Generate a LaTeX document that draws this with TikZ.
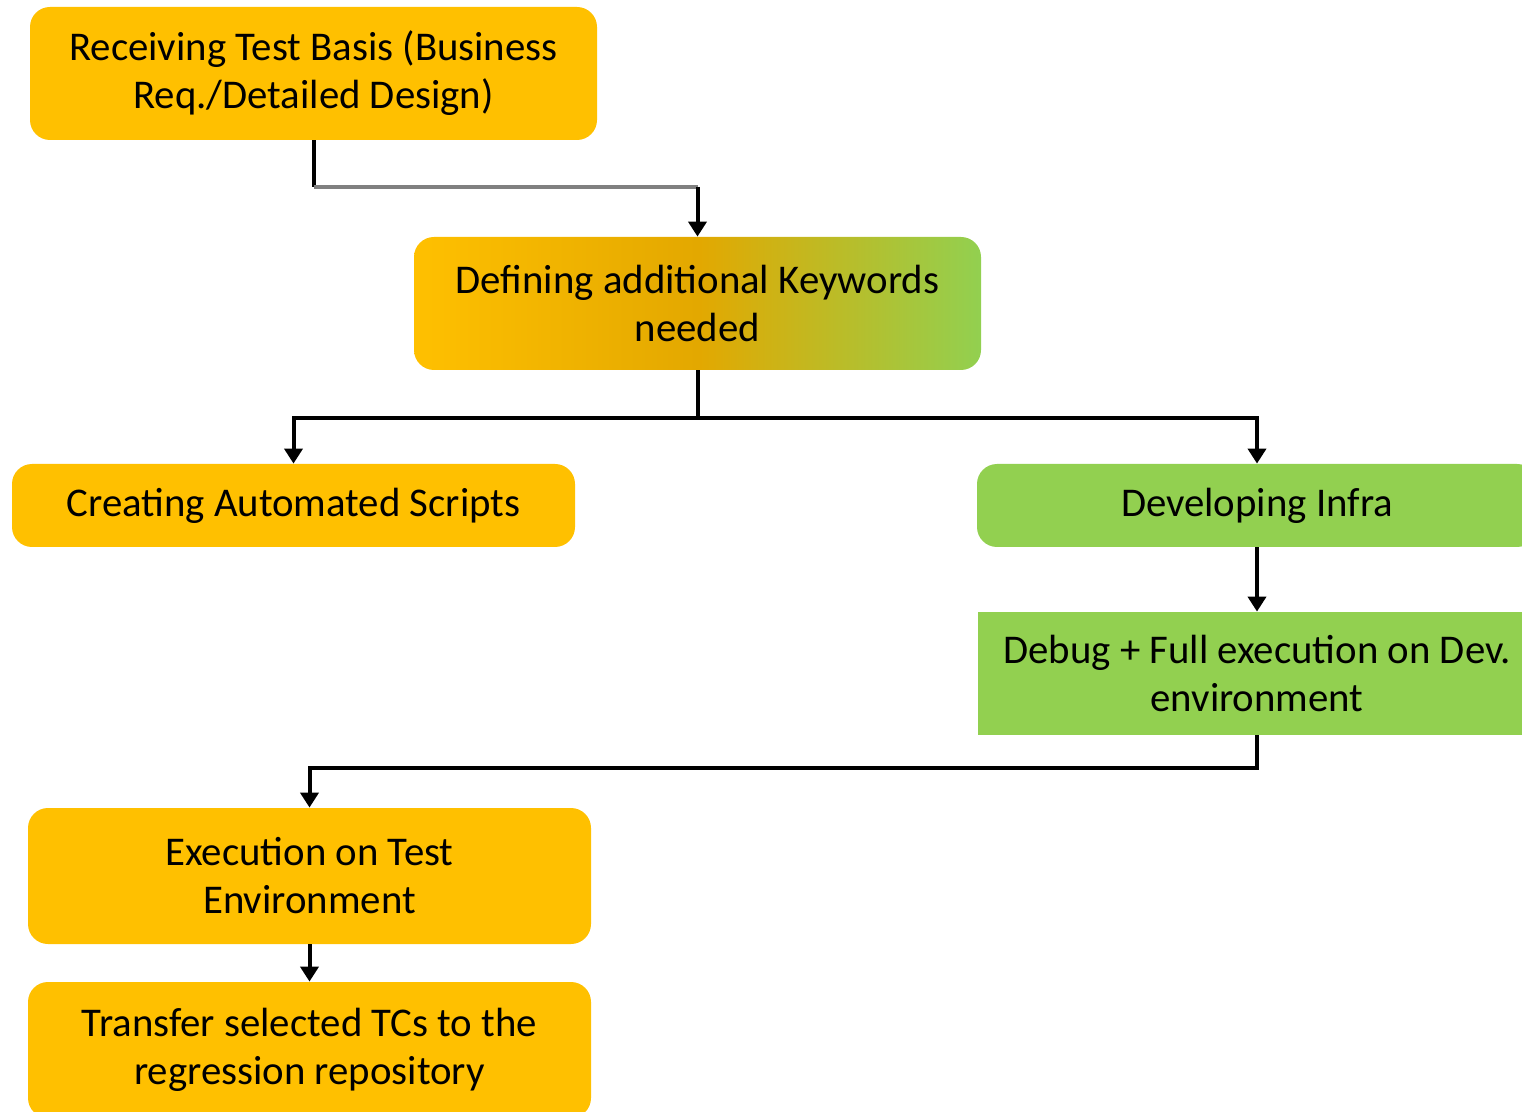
\documentclass[tikz,border=0pt]{standalone}
\usepackage{fontspec}
\setmainfont{Carlito}
\usetikzlibrary{arrows.meta}
\definecolor{gold}{HTML}{FFC000}
\definecolor{midgold}{HTML}{E3A800}
\definecolor{leaf}{HTML}{92D050}
\tikzset{
  box/.style={draw=none, minimum width=#1, inner sep=0pt, align=center, font=\fontsize{20.4}{24}\selectfont},
  ybox/.style={box=#1, fill=gold, rounded corners=10pt},
  gbox/.style={box=#1, fill=leaf},
  conn/.style={line width=2pt, black},
  arr/.style={conn, -{Triangle[width=9pt,length=7.5pt]}},
}
\begin{document}
\begin{tikzpicture}[x=0.5pt,y=-0.5pt]
\useasboundingbox (0,0) rectangle (1522,1112);
\clip (0,0) rectangle (1522,1112);
\node[ybox=283.5pt, minimum height=66.5pt] (recv) at (313.5,73.5) {Receiving Test Basis (Business\\Req./Detailed Design)};
\node[box=283.5pt, minimum height=66.5pt, rounded corners=10pt, left color=gold, right color=leaf, middle color=midgold] (def) at (697.5,303.5) {Defining additional Keywords\\needed};
\node[ybox=281.5pt, minimum height=41.5pt] (create) at (293.5,505.5) {Creating Automated Scripts};
\node[gbox=280pt, minimum height=41.5pt, rounded corners=10pt] (infra) at (1257,505.5) {Developing Infra};
\node[gbox=279pt, minimum height=61.5pt] (debug) at (1257,673.5) {Debug + Full execution on Dev.\\environment};
\node[ybox=281.5pt, minimum height=68pt] (exec) at (309.5,876) {Execution on Test\\Environment};
\node[ybox=281.5pt, minimum height=68pt] (trans) at (309.5,1050) {Transfer selected TCs to the\\regression repository};
\coordinate (a1) at (313.5,187);
\coordinate (a2) at (697.5,187);
\draw[conn] (recv.south) -- (a1);
\draw[line width=2pt, gray] (a1) -- (a2);
\draw[arr] (a2) -- (def.north);
\coordinate (b0) at (697.5,418);
\coordinate (b1) at (293.5,418);
\coordinate (b2) at (1257,418);
\draw[conn] (def.south) -- (b0);
\draw[arr] (b0) -- (b1) -- (create.north);
\draw[arr] (b0) -- (b2) -- (infra.north);
\draw[arr] (infra.south) -- (debug.north);
\coordinate (d1) at (1257,768);
\coordinate (d2) at (309.5,768);
\draw[arr] (debug.south) -- (d1) -- (d2) -- (exec.north);
\draw[arr] (exec.south) -- (trans.north);
\end{tikzpicture}
\end{document}
